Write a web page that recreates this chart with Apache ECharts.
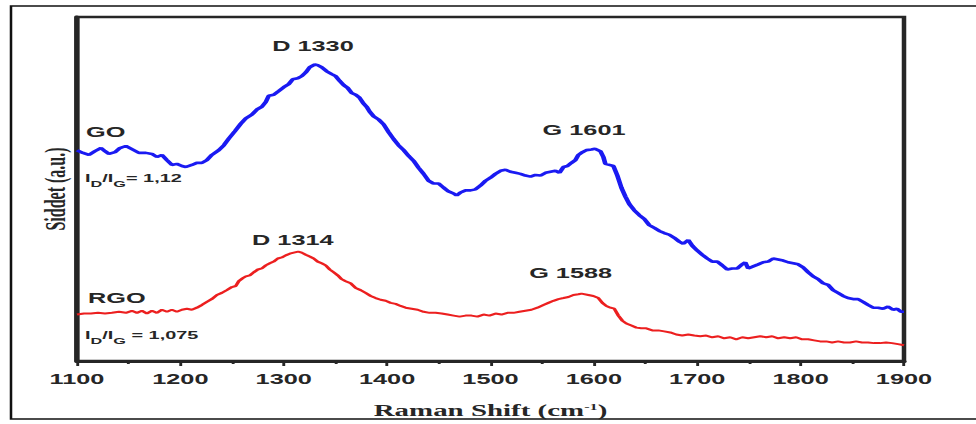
<!DOCTYPE html>
<html>
<head>
<meta charset="utf-8">
<script src="https://cdn.jsdelivr.net/npm/echarts@6/dist/echarts.min.js"></script>
<style>
  html, body { margin: 0; padding: 0; background: #fff; }
  #wrap { width: 976px; height: 424px; overflow: hidden; position: relative; }
  /* chart is laid out on a narrower canvas and widened to the page width */
  #chart { width: 540px; height: 424px; transform-origin: 0 0; }
</style>
</head>
<body>
<div id="wrap"><div id="chart"></div></div>
<script>
// Raman spectra of graphene oxide (GO) and reduced graphene oxide (RGO)
const goShift = [1100,1105.8,1111.6,1117.4,1123.2,1127.1,1130.9,1136.7,1141.5,1147.3,1153.1,1159.9,1166.7,1172.5,1177.3,1182.1,1187,1191.8,1196.6,1201.5,1205.3,1211.1,1215.9,1220.8,1225.6,1230.4,1237.2,1242,1246.9,1252.7,1258.5,1263.3,1269.1,1274,1278.8,1282.6,1285.5,1290.3,1295.2,1300,1304.8,1308.7,1313.5,1317.4,1321.3,1325.1,1330,1332.8,1336.7,1341.6,1346.4,1350.2,1354.1,1358,1361.8,1365.7,1369.6,1373.4,1377.3,1380.2,1383.1,1387,1391.8,1396.6,1401.5,1406.3,1411.1,1416,1420.8,1425.6,1430.4,1435.3,1440.1,1444.9,1449.8,1454.6,1459.4,1464.3,1467.2,1471,1475.9,1480.7,1485.5,1490.3,1495.2,1500,1504.8,1509.7,1514.5,1519.3,1524.2,1529,1533.8,1538.7,1543.5,1548.3,1553.2,1558,1562.8,1566.7,1570.6,1574.4,1578.3,1582.1,1585,1588.9,1592.8,1597.6,1601,1606.3,1609.2,1611.1,1615,1618.9,1622.7,1626.6,1630.5,1634.3,1639.1,1644,1648.8,1653.6,1658.5,1663.3,1668.1,1673,1677.8,1682.6,1686.5,1691.3,1695.2,1700,1704.8,1709.7,1714.5,1719.3,1724.2,1729,1733.8,1738.7,1743.5,1746.4,1749.3,1754.1,1759,1763.8,1768.6,1773.4,1778.3,1783.1,1787.9,1792.8,1797.6,1802.4,1807.3,1812.1,1816.9,1821.7,1826.6,1831.4,1836.2,1841.1,1845.9,1850.7,1855.6,1860.4,1865.2,1870.1,1874.9,1879.7,1884.6,1889.4,1893.3,1897.1,1900];
const goIntensity = [61.3,60.5,59.9,61.0,61.9,61.0,60.2,60.7,61.9,62.5,61.6,60.5,60.5,60.2,59.3,59.9,58.4,57.0,57.3,56.7,56.4,57.0,57.6,57.6,58.4,59.9,61.3,62.7,64.7,66.8,69.0,70.5,71.6,73.1,73.9,75.3,77.1,77.4,78.5,79.6,80.5,81.9,82.2,82.8,83.9,85.4,86.2,86.0,85.4,84.2,83.4,82.8,81.4,80.2,79.4,77.9,77.4,76.5,74.8,73.9,72.5,71.1,70.2,68.8,66.5,64.5,62.7,61.3,59.6,58.2,56.2,54.4,52.4,51.6,51.6,50.4,49.3,48.7,48.1,49.0,49.6,49.6,49.9,51.0,52.4,53.3,54.4,55.3,55.6,55.0,54.7,54.4,53.9,53.6,54.1,53.9,54.7,55.0,55.3,54.7,56.4,56.7,57.6,58.4,59.9,60.7,61.3,61.5,61.7,61.0,59.3,57.3,57.0,56.7,53.9,50.4,47.8,45.6,43.8,42.4,41.3,39.5,38.7,37.8,37.2,36.7,35.8,34.7,34.1,35.2,33.5,32.1,30.9,29.8,28.9,28.9,27.8,26.6,26.9,26.9,28.1,28.7,26.9,27.5,28.1,28.7,28.9,29.8,29.5,29.2,28.7,28.4,28.1,27.2,25.8,24.6,23.8,22.6,22.1,20.6,19.8,18.9,18.3,18.0,18.0,17.2,16.3,15.5,15.5,15.2,15.8,14.9,15.2,14.3,14.3];

const rgoShift = [1100,1106.8,1113.5,1120.3,1127.1,1133.8,1140.6,1147.3,1153.1,1158,1162.8,1167.6,1172.5,1177.3,1182.1,1187,1191.8,1196.6,1201.5,1206.3,1211.1,1216,1220.8,1225.6,1230.4,1235.3,1240.1,1244.9,1249.8,1253.6,1256.5,1260.4,1263.3,1267.2,1271,1274.9,1278.8,1282.6,1286.5,1290.3,1294.2,1298.1,1301.9,1305.8,1309.7,1314,1317.4,1321.3,1325.1,1329,1332.8,1336.7,1340.6,1344.5,1348.3,1352.2,1356,1359.9,1364.7,1369.6,1374.4,1379.2,1384.1,1388.9,1393.7,1398.6,1403.4,1408.2,1413,1417.9,1423.7,1429.5,1435.3,1441.1,1446.9,1452.7,1458.5,1464.3,1470.1,1475.9,1481.6,1487.4,1493.2,1499,1504.8,1510.6,1516.4,1522.2,1528,1533.8,1539.6,1545.4,1551.2,1556,1560.9,1565.7,1570.6,1575.4,1580.2,1585,1588,1594.7,1599.5,1604.4,1608.2,1612.1,1616,1619.8,1623.7,1627.6,1631.4,1636.3,1641.1,1645.9,1650.7,1656.5,1662.3,1668.1,1673.9,1679.7,1685.5,1691.3,1697.1,1702.9,1708.7,1714.5,1720.3,1726.1,1731.9,1737.7,1743.5,1749.3,1755.1,1760.9,1766.7,1772.5,1778.3,1784.1,1789.9,1795.7,1801.5,1807.3,1813.1,1818.9,1824.7,1830.5,1836.2,1842,1847.8,1853.6,1859.4,1865.2,1871,1876.8,1882.6,1888.4,1894.2,1900];
const rgoIntensity = [13.5,13.8,13.8,14.0,13.8,14.0,14.3,14.0,14.6,14.0,14.6,13.8,14.6,14.0,14.9,14.3,14.9,14.3,14.9,15.2,14.9,15.5,16.3,17.2,18.0,19.2,19.8,20.6,21.5,21.8,23.2,24.1,24.6,24.9,25.8,26.6,26.9,27.8,28.4,28.9,29.8,30.1,30.7,31.2,31.5,31.8,31.5,30.9,30.4,29.8,28.9,28.4,27.8,26.6,25.8,24.9,23.8,23.2,22.6,21.2,20.6,19.8,18.9,18.3,17.8,17.5,16.9,16.6,16.0,15.5,15.2,14.9,14.3,14.0,14.0,13.8,13.5,13.2,12.9,13.2,13.2,12.9,13.5,13.2,13.8,13.5,14.0,14.0,14.3,14.6,14.9,15.5,16.3,16.9,17.5,18.0,18.3,18.6,19.2,19.4,19.6,19.2,18.9,18.3,16.9,16.0,15.5,15.2,13.2,11.7,10.9,10.3,9.7,9.5,9.5,8.9,8.9,8.6,8.3,7.7,7.4,7.7,7.4,7.2,7.4,6.9,7.2,6.6,6.9,6.3,6.9,6.6,6.9,7.2,6.9,7.2,6.6,6.9,6.6,6.9,6.3,6.3,6.0,5.7,5.7,5.4,5.7,5.4,5.4,5.7,5.4,5.4,5.2,5.2,5.4,5.2,4.9,4.6];

const xTicks = [1100, 1200, 1300, 1400, 1500, 1600, 1700, 1800, 1900];

// band positions that are annotated on each spectrum
const goPeaks = [{ band: 'D', shift: 1330 }, { band: 'G', shift: 1601 }];
const rgoPeaks = [{ band: 'D', shift: 1314 }, { band: 'G', shift: 1588 }];

const goRatio = '1,12';
const rgoRatio = '1,075';

const STRETCH = 976 / 540;
const el = document.getElementById('chart');
el.style.transform = 'scaleX(' + STRETCH + ')';
const chart = echarts.init(el, null, { renderer: 'svg' });

const SANS = 'Liberation Sans, Arial, sans-serif';
const SERIF = 'Liberation Serif, Times New Roman, serif';
const INK = '#262626';

function pairs(xs, ys) { return xs.map((x, i) => [x, ys[i]]); }

// peak label placement (offset / distance per label)
const peakLabelStyle = [
  { dx: -1, dist: 11 },
  { dx: -6, dist: 11 },
  { dx: -3, dist: 4 },
  { dx: -6, dist: 13 }
];

function peakMarks(peaks, xs, ys, styleStart) {
  return peaks.map((p, k) => {
    const st = peakLabelStyle[styleStart + k];
    return {
      coord: [p.shift, ys[xs.indexOf(p.shift)]],
      value: p.band + ' ' + p.shift,
      label: { offset: [st.dx, 0], distance: st.dist }
    };
  });
}

function markStyle() {
  return {
    symbol: 'circle',
    symbolSize: 1,
    itemStyle: { color: 'rgba(0,0,0,0)' },
    label: {
      show: true, position: 'top', formatter: '{c}',
      color: INK, fontFamily: SANS, fontWeight: 'bold', fontSize: 14
    },
    silent: true
  };
}

function ratioText(value, spaced) {
  return '{i|I}{s|D}{i|/I}{s|G}{i|' + (spaced ? ' = ' : '= ') + value + '}';
}
const ratioRich = {
  i: { fontSize: 11, fontWeight: 'bold', fontFamily: SANS, fill: INK, verticalAlign: 'top', lineHeight: 16 },
  s: { fontSize: 9, fontWeight: 'bold', fontFamily: SANS, fill: INK, verticalAlign: 'bottom', lineHeight: 16 }
};

// page frame: left, top and bottom edges (open on the right)
const FL = 11 / STRETCH, FT = 6, FB = 419, FR = 560;

const option = {
  animation: false,
  backgroundColor: '#ffffff',
  grid: {
    left: 77 / STRETCH, right: 540 - 904 / STRETCH, top: 17, bottom: 58,
    show: true, borderColor: INK, borderWidth: 2.5, backgroundColor: 'transparent'
  },
  xAxis: {
    type: 'value', min: 1100, max: 1900, interval: 100,
    name: '{a|Raman Shift (cm}{s|-1}{a|)}',
    nameLocation: 'middle', nameGap: 41,
    nameTextStyle: {
      rich: {
        a: { fontFamily: SERIF, fontWeight: 'bold', fontSize: 16, color: INK },
        s: { fontFamily: SERIF, fontWeight: 'bold', fontSize: 9, color: INK, padding: [0, 0, 9, 0] }
      }
    },
    axisLine: { show: true, onZero: false, lineStyle: { color: INK, width: 3 } },
    axisTick: { show: true, inside: false, length: 5, lineStyle: { color: INK, width: 1.6 } },
    minorTick: { show: true, splitNumber: 2, length: 3, lineStyle: { color: INK, width: 1.6 } },
    splitLine: { show: false },
    axisLabel: {
      margin: 11, color: INK, fontFamily: SANS, fontWeight: 'bold', fontSize: 14,
      formatter: v => (xTicks.indexOf(v) >= 0 ? String(v) : '')
    }
  },
  yAxis: {
    type: 'value', min: 0, max: 100,
    name: 'Siddet (a.u.)', nameLocation: 'middle', nameRotate: 90, nameGap: 4,
    nameTextStyle: { fontFamily: SERIF, fontWeight: 'bold', fontSize: 16, color: INK },
    axisLine: { show: true, onZero: false, lineStyle: { color: INK, width: 3 } },
    axisTick: { show: false },
    axisLabel: { show: false },
    splitLine: { show: false }
  },
  series: [
    {
      name: 'GO', type: 'line', showSymbol: false, clip: true,
      data: pairs(goShift, goIntensity),
      lineStyle: { color: '#1a1af2', width: 2.6 },
      markPoint: Object.assign(markStyle(), { data: peakMarks(goPeaks, goShift, goIntensity, 0) })
    },
    {
      name: 'RGO', type: 'line', showSymbol: false, clip: true,
      data: pairs(rgoShift, rgoIntensity),
      lineStyle: { color: '#ec1f1f', width: 2.0 },
      markPoint: Object.assign(markStyle(), { data: peakMarks(rgoPeaks, rgoShift, rgoIntensity, 2) })
    }
  ],
  graphic: [
    {
      type: 'polyline', silent: true, z: -1,
      shape: { points: [[FR, FT], [FL, FT], [FL, FB], [FR, FB]] },
      style: { fill: 'none', stroke: '#111', lineWidth: 1.4 }
    },
    {
      type: 'text', left: 86 / STRETCH, top: 125,
      style: { text: 'GO', fill: INK, font: 'bold 14px ' + SANS }
    },
    {
      type: 'text', left: 85 / STRETCH, top: 172,
      style: { text: ratioText(goRatio, false), rich: ratioRich }
    },
    {
      type: 'text', left: 88 / STRETCH, top: 291,
      style: { text: 'RGO', fill: INK, font: 'bold 14px ' + SANS }
    },
    {
      type: 'text', left: 85 / STRETCH, top: 329,
      style: { text: ratioText(rgoRatio, true), rich: ratioRich }
    }
  ]
};

chart.setOption(option);
</script>
</body>
</html>
